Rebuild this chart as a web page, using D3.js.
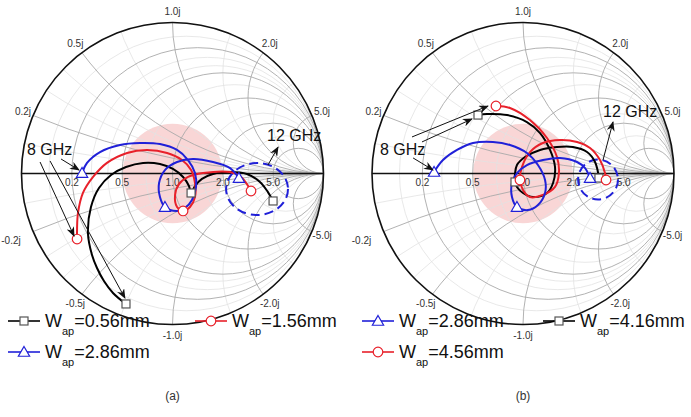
<!DOCTYPE html>
<html><head><meta charset="utf-8">
<script src="https://cdn.jsdelivr.net/npm/d3@7"></script>
<style>body{margin:0;background:#fff} svg{display:block} text{font-family:Arial,"Liberation Sans",sans-serif}</style>
</head><body><svg id="c" width="691" height="417"></svg>
<script>
// ---- grid values ----
const majorGrid = [0.2, 0.5, 1, 2, 5];
const minorGrid = [0.1, 0.3, 0.4, 0.7, 1.5, 3];
const resistanceLabels = ["0.2", "0.5", "1.0", "2.0", "5.0"];
const reactanceLabels = ["0.2j", "0.5j", "1.0j", "2.0j", "5.0j"];
const negReactanceLabels = ["-0.2j", "-0.5j", "-1.0j", "-2.0j", "-5.0j"];
const matchRadius = 0.33; // |Gamma| of the shaded match region

// ---- panel (a): reflection coefficient points [Re, Im], 8 -> 12 GHz ----
const a_w056 = [[-0.308,-0.864],[-0.394,-0.791],[-0.454,-0.712],[-0.500,-0.626],[-0.533,-0.540],[-0.560,-0.394],[-0.540,-0.222],[-0.487,-0.096],[-0.407,-0.010],[-0.308,0.043],[-0.195,0.070],[-0.083,0.063],[0.003,0.030],[0.070,-0.023],[0.109,-0.083],[0.123,-0.129],[0.149,-0.083],[0.195,-0.036],[0.268,-0.003],[0.381,0.010],[0.493,-0.003],[0.579,-0.056],[0.632,-0.123],[0.666,-0.182]];
const a_w156 = [[-0.632,-0.434],[-0.632,-0.361],[-0.626,-0.262],[-0.593,-0.129],[-0.526,-0.023],[-0.434,0.070],[-0.301,0.136],[-0.169,0.155],[-0.036,0.136],[0.063,0.089],[0.123,0.023],[0.149,-0.063],[0.149,-0.156],[0.116,-0.222],[0.070,-0.248],[0.030,-0.222],[0.017,-0.142],[0.043,-0.070],[0.103,-0.023],[0.202,0.003],[0.381,0.010],[0.447,-0.017],[0.493,-0.070],[0.520,-0.116]];
const a_w286 = [[-0.599,0.003],[-0.566,0.070],[-0.480,0.142],[-0.348,0.189],[-0.215,0.202],[-0.083,0.195],[0.030,0.156],[0.103,0.089],[0.149,0.003],[0.156,-0.089],[0.129,-0.175],[0.083,-0.228],[0.030,-0.248],[-0.050,-0.222],[-0.083,-0.156],[-0.089,-0.063],[-0.050,0.023],[0.030,0.076],[0.136,0.096],[0.268,0.076],[0.381,0.036],[0.440,-0.030]];
const a_markIdx = [[0,15,23],[0,14,23],[0,13,21]];

// ---- panel (b) ----
const b_w286 = [[-0.589,0.010],[-0.530,0.089],[-0.437,0.156],[-0.331,0.202],[-0.199,0.209],[-0.086,0.189],[0.026,0.136],[0.099,0.056],[0.146,-0.043],[0.146,-0.129],[0.099,-0.209],[0.033,-0.242],[-0.040,-0.222],[-0.073,-0.156],[-0.073,-0.063],[-0.040,0.003],[0.026,0.056],[0.132,0.089],[0.245,0.103],[0.358,0.076],[0.411,0.036],[0.444,-0.030]];
const b_w416 = [[-0.298,0.387],[-0.238,0.394],[-0.106,0.387],[0.026,0.341],[0.113,0.268],[0.179,0.156],[0.212,0.043],[0.199,-0.063],[0.159,-0.129],[0.066,-0.156],[0.000,-0.129],[-0.040,-0.089],[-0.053,-0.056],[-0.053,-0.003],[-0.040,0.056],[0.013,0.109],[0.113,0.156],[0.225,0.175],[0.331,0.175],[0.424,0.142],[0.477,0.076],[0.503,-0.030]];
const b_w456 = [[-0.179,0.447],[-0.086,0.434],[0.046,0.354],[0.159,0.235],[0.225,0.109],[0.238,0.003],[0.212,-0.089],[0.132,-0.142],[0.046,-0.156],[0.000,-0.109],[-0.020,-0.043],[-0.007,0.043],[0.046,0.142],[0.132,0.202],[0.245,0.222],[0.358,0.209],[0.444,0.169],[0.510,0.089],[0.543,0.003],[0.550,-0.043]];
const b_markIdx = [[0,12,21],[0,12,21],[0,10,19]];

// legend labels
const a_legend = ["=0.56mm", "=1.56mm", "=2.86mm"];
const b_legend = ["=2.86mm", "=4.16mm", "=4.56mm"];

// annotations (Gamma plane)
const a_arrows = [[[-0.738,0.096],[-0.619,0.023]],[[-0.877,0.076],[-0.652,-0.414]],[[-0.811,0.083],[-0.315,-0.825]],[[0.632,0.056],[0.699,0.175]]];
const a_texts = [["8 GHz",[-0.964,0.123]],["12 GHz",[0.626,0.215]]];
const a_ring = {c:[0.560,-0.103], rx:0.205, ry:0.172};
const b_arrows = [[[-0.728,0.103],[-0.596,0.023]],[[-0.669,0.209],[-0.338,0.361]],[[-0.735,0.242],[-0.232,0.447]],[[0.530,0.089],[0.596,0.341]]];
const b_texts = [["8 GHz",[-0.947,0.123]],["12 GHz",[0.530,0.374]]];
const b_ring = {c:[0.497,-0.040], rx:0.132, ry:0.132};

const COL = {black:"#000000", red:"#e8202a", blue:"#2020d8"};

const svg = d3.select("#c");
const defs = svg.append("defs");
defs.append("marker").attr("id","arr").attr("viewBox","0 0 10 8").attr("refX",9).attr("refY",4)
  .attr("markerWidth",10).attr("markerHeight",8).attr("markerUnits","userSpaceOnUse").attr("orient","auto")
  .append("path").attr("d","M0,0 L10,4 L0,8 L3,4 Z").attr("fill","#111");

function drawMarker(g, kind, px, py, color) {
  if (kind === "square") {
    g.append("rect").attr("x",px-4).attr("y",py-4).attr("width",8).attr("height",8)
      .attr("fill","#fff").attr("stroke","#555").attr("stroke-width",1.2);
  } else if (kind === "circle") {
    g.append("circle").attr("cx",px).attr("cy",py).attr("r",4.8)
      .attr("fill","#fff").attr("stroke",color).attr("stroke-width",1.2);
  } else {
    g.append("path").attr("d", d3.symbol(d3.symbolTriangle, 55)())
      .attr("transform",`translate(${px},${py+1})`)
      .attr("fill","#fff").attr("stroke",color).attr("stroke-width",1.2);
  }
}

function panel(id, cx, cy, R, series, arrows, texts, ring) {
  const x = d3.scaleLinear().domain([-1,1]).range([cx-R, cx+R]);
  const y = d3.scaleLinear().domain([-1,1]).range([cy+R, cy-R]);
  const k = x(1) - x(0);
  const g = svg.append("g");
  defs.append("clipPath").attr("id","clip"+id).append("circle").attr("cx",x(0)).attr("cy",y(0)).attr("r",k);

  // shaded match region
  g.append("circle").attr("cx",x(0)).attr("cy",y(0)).attr("r",k*matchRadius).attr("fill","#f9d6d6");

  const grid = g.append("g").attr("clip-path",`url(#clip${id})`).attr("fill","none");
  function gridSet(vals, stroke, sw) {
    vals.forEach(v => {
      grid.append("circle").attr("cx",x(v/(1+v))).attr("cy",y(0)).attr("r",k/(1+v))
        .attr("stroke",stroke).attr("stroke-width",sw);
      [1,-1].forEach(s => grid.append("circle").attr("cx",x(1)).attr("cy",y(s/v)).attr("r",k/v)
        .attr("stroke",stroke).attr("stroke-width",sw));
    });
  }
  gridSet(minorGrid, "#e2e2e2", 0.8);
  gridSet(majorGrid, "#a9a9a9", 0.9);

  // axis and boundary
  g.append("line").attr("x1",x(-1)).attr("x2",x(1)).attr("y1",y(0)).attr("y2",y(0))
    .attr("stroke","#111").attr("stroke-width",1.5);
  g.append("circle").attr("cx",x(0)).attr("cy",y(0)).attr("r",k).attr("fill","none")
    .attr("stroke","#111").attr("stroke-width",1.6);

  // labels
  majorGrid.forEach((v,i) => {
    g.append("text").attr("x",x((v-1)/(v+1))).attr("y",y(0)+12).attr("text-anchor","middle")
      .attr("font-size",10).attr("fill","#333").text(resistanceLabels[i]);
    [1,-1].forEach(s => {
      const ang = Math.PI - 2*Math.atan(v);
      const ux = Math.cos(ang), uy = s*Math.sin(ang);
      const d = (s < 0 && ux < -0.9) ? 24 : 11;
      g.append("text").attr("x",x(ux)+ux*d).attr("y",y(uy)-uy*d).attr("dy","0.35em")
        .attr("text-anchor","middle").attr("font-size",10).attr("fill","#333")
        .text(s>0 ? reactanceLabels[i] : negReactanceLabels[i]);
    });
  });

  // dashed ring
  g.append("ellipse").attr("cx",x(ring.c[0])).attr("cy",y(ring.c[1]))
    .attr("rx",k*ring.rx).attr("ry",k*ring.ry).attr("fill","none")
    .attr("stroke",COL.blue).attr("stroke-width",2).attr("stroke-dasharray","9,5");

  // curves
  const line = d3.line().x(d=>x(d[0])).y(d=>y(d[1])).curve(d3.curveCatmullRom.alpha(0.5));
  series.forEach(s => {
    g.append("path").attr("d",line(s.data)).attr("fill","none").attr("stroke",s.color).attr("stroke-width",2);
  });
  series.forEach(s => {
    s.marks.forEach(i => drawMarker(g, s.kind, x(s.data[i][0]), y(s.data[i][1]), s.color));
  });

  // annotations
  arrows.forEach(a => g.append("line").attr("x1",x(a[0][0])).attr("y1",y(a[0][1]))
    .attr("x2",x(a[1][0])).attr("y2",y(a[1][1])).attr("stroke","#111").attr("stroke-width",1)
    .attr("marker-end","url(#arr)"));
  texts.forEach(t => g.append("text").attr("x",x(t[1][0])).attr("y",y(t[1][1]))
    .attr("font-size",16).attr("fill","#111").text(t[0]));
}

panel("a", 172.5, 173.5, 151, [
  {data:a_w056, color:COL.black, kind:"square", marks:a_markIdx[0]},
  {data:a_w156, color:COL.red, kind:"circle", marks:a_markIdx[1]},
  {data:a_w286, color:COL.blue, kind:"triangle", marks:a_markIdx[2]}
], a_arrows, a_texts, a_ring);

panel("b", 523, 173.5, 151, [
  {data:b_w416, color:COL.black, kind:"square", marks:b_markIdx[1]},
  {data:b_w456, color:COL.red, kind:"circle", marks:b_markIdx[2]},
  {data:b_w286, color:COL.blue, kind:"triangle", marks:b_markIdx[0]}
], b_arrows, b_texts, b_ring);

// legends
function legendItem(lx, ly, kind, color, label) {
  const g = svg.append("g");
  g.append("line").attr("x1",lx).attr("x2",lx+32).attr("y1",ly).attr("y2",ly)
    .attr("stroke",color).attr("stroke-width",1.6);
  drawMarker(g, kind, lx+16, ly, color);
  const t = g.append("text").attr("x",lx+37).attr("y",ly+6).attr("font-size",18).attr("fill","#111");
  t.append("tspan").text("W");
  t.append("tspan").attr("font-size",11).attr("dy",8).text("ap");
  t.append("tspan").attr("dy",-8).text(label);
}
legendItem(8, 321, "square", COL.black, a_legend[0]);
legendItem(195, 321, "circle", COL.red, a_legend[1]);
legendItem(8, 352, "triangle", COL.blue, a_legend[2]);
legendItem(362, 321, "triangle", COL.blue, b_legend[0]);
legendItem(543, 321, "square", COL.black, b_legend[1]);
legendItem(362, 352, "circle", COL.red, b_legend[2]);

svg.append("text").attr("x",172.5).attr("y",400).attr("text-anchor","middle").attr("font-size",12).attr("fill","#333").text("(a)");
svg.append("text").attr("x",523).attr("y",400).attr("text-anchor","middle").attr("font-size",12).attr("fill","#333").text("(b)");
</script></body></html>
